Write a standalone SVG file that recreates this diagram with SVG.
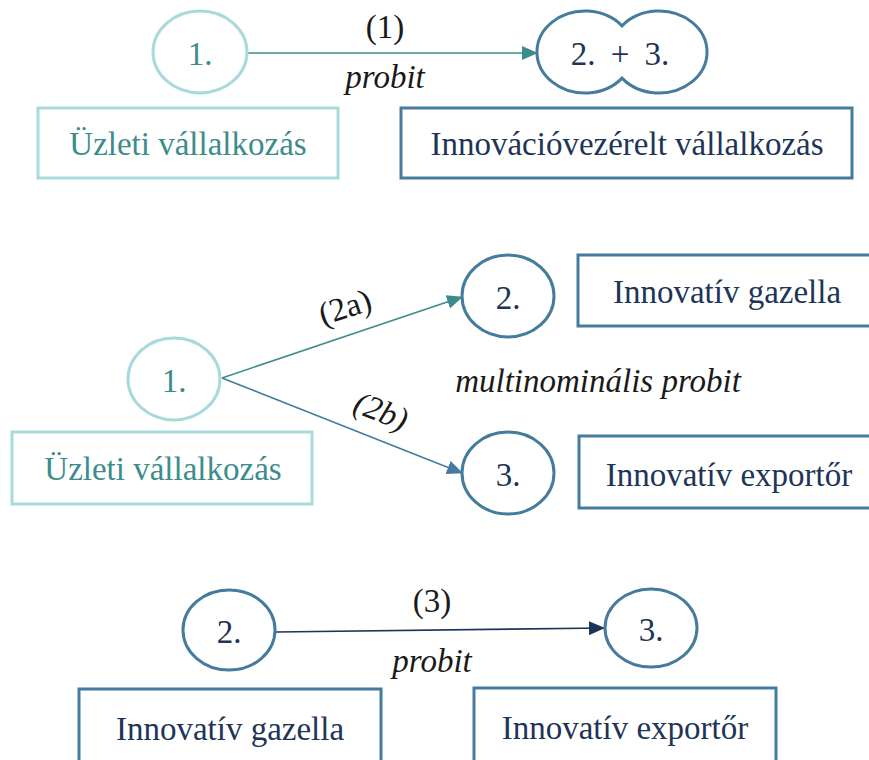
<svg xmlns="http://www.w3.org/2000/svg" width="869" height="760" viewBox="0 0 869 760">
  <defs>
    <style>
      text { font-family: "Liberation Serif", "Times New Roman", "DejaVu Serif", serif; }
      .txt { font-size: 33px; text-anchor: middle; dominant-baseline: central; }
      .lbl { font-size: 33px; fill: #1a1a1a; text-anchor: middle; dominant-baseline: central; }
      .it { font-style: italic; }
      .light { fill: none; stroke: #a8dadc; stroke-width: 3; }
      .dark { fill: none; stroke: #457b9d; stroke-width: 3; }
      .tl { fill: #3d8c8c; }
      .td { fill: #1d3557; }
      .edge { fill: none; stroke-width: 1.6; }
    </style>
    <marker id="ah-teal" markerWidth="16" markerHeight="14" refX="15" refY="7" orient="auto" markerUnits="userSpaceOnUse" viewBox="0 0 16 14">
      <path d="M0,0 L16,7 L0,14 z" fill="#3d8c8c"/>
    </marker>
    <marker id="ah-blue" markerWidth="16" markerHeight="14" refX="15" refY="7" orient="auto" markerUnits="userSpaceOnUse" viewBox="0 0 16 14">
      <path d="M0,0 L16,7 L0,14 z" fill="#457b9d"/>
    </marker>
    <marker id="ah-navy" markerWidth="16" markerHeight="14" refX="15" refY="7" orient="auto" markerUnits="userSpaceOnUse" viewBox="0 0 16 14">
      <path d="M0,0 L16,7 L0,14 z" fill="#1d3557"/>
    </marker>
  </defs>
  <rect width="869" height="760" fill="#ffffff"/>

  <!-- connectors and their labels -->
  <g id="connectors">
    <line class="edge" x1="248" y1="53" x2="537" y2="53" stroke="#3d8c8c" marker-end="url(#ah-teal)"/>
    <line class="edge" x1="222" y1="378" x2="462" y2="297" stroke="#3d8c8c" marker-end="url(#ah-teal)"/>
    <line class="edge" x1="222" y1="378" x2="462" y2="473" stroke="#457b9d" marker-end="url(#ah-blue)"/>
    <line class="edge" x1="276" y1="632" x2="604" y2="628" stroke="#1d3557" marker-end="url(#ah-navy)"/>
    <text class="lbl" x="385" y="27">(1)</text>
    <text class="lbl it" x="385" y="77">probit</text>
    <text class="lbl" x="345" y="307" transform="rotate(-18 345 307)">(2a)</text>
    <text class="lbl it" x="381" y="411" transform="rotate(21 381 411)">(2b)</text>
    <text class="lbl it" x="598" y="381">multinominális probit</text>
    <text class="lbl" x="432" y="601">(3)</text>
    <text class="lbl it" x="432" y="661">probit</text>
  </g>

  <!-- top row -->
  <g id="n-top-1">
    <ellipse class="light" cx="200" cy="52" rx="47" ry="41"/>
    <text class="txt tl" x="200" y="54">1.</text>
  </g>
  <g id="n-top-23">
    <path class="dark" d="M622,25.9 A48,41 0 1 0 622,78.1 A48,41 0 1 0 622,25.9 Z"/>
    <text class="txt td" x="620" y="54" word-spacing="7">2. + 3.</text>
  </g>
  <g id="b-top-uzleti">
    <rect class="light" x="38" y="108" width="300" height="70"/>
    <text class="txt tl" x="188" y="144">Üzleti vállalkozás</text>
  </g>
  <g id="b-top-innov">
    <rect class="dark" x="401" y="108" width="451" height="70"/>
    <text class="txt td" x="627" y="144">Innovációvezérelt vállalkozás</text>
  </g>

  <!-- middle row -->
  <g id="n-mid-1">
    <ellipse class="light" cx="174" cy="379" rx="46" ry="41"/>
    <text class="txt tl" x="174" y="381">1.</text>
  </g>
  <g id="b-mid-uzleti">
    <rect class="light" x="12" y="432" width="300" height="72"/>
    <text class="txt tl" x="163" y="469">Üzleti vállalkozás</text>
  </g>
  <g id="n-mid-2">
    <ellipse class="dark" cx="508" cy="296" rx="46" ry="41"/>
    <text class="txt td" x="508" y="298">2.</text>
  </g>
  <g id="b-mid-gazella">
    <rect class="dark" x="578" y="255" width="300" height="71"/>
    <text class="txt td" x="727" y="292">Innovatív gazella</text>
  </g>
  <g id="n-mid-3">
    <ellipse class="dark" cx="508" cy="473" rx="46" ry="41"/>
    <text class="txt td" x="508" y="475">3.</text>
  </g>
  <g id="b-mid-export">
    <rect class="dark" x="579" y="436" width="300" height="72"/>
    <text class="txt td" x="729" y="475">Innovatív exportőr</text>
  </g>

  <!-- bottom row -->
  <g id="n-bot-2">
    <ellipse class="dark" cx="229" cy="630" rx="46" ry="40"/>
    <text class="txt td" x="229" y="632">2.</text>
  </g>
  <g id="n-bot-3">
    <ellipse class="dark" cx="651" cy="628" rx="46" ry="39"/>
    <text class="txt td" x="651" y="630">3.</text>
  </g>
  <g id="b-bot-gazella">
    <rect class="dark" x="79" y="689" width="302" height="80"/>
    <text class="txt td" x="230" y="729">Innovatív gazella</text>
  </g>
  <g id="b-bot-export">
    <rect class="dark" x="474" y="688" width="302" height="80"/>
    <text class="txt td" x="625" y="728">Innovatív exportőr</text>
  </g>
</svg>
